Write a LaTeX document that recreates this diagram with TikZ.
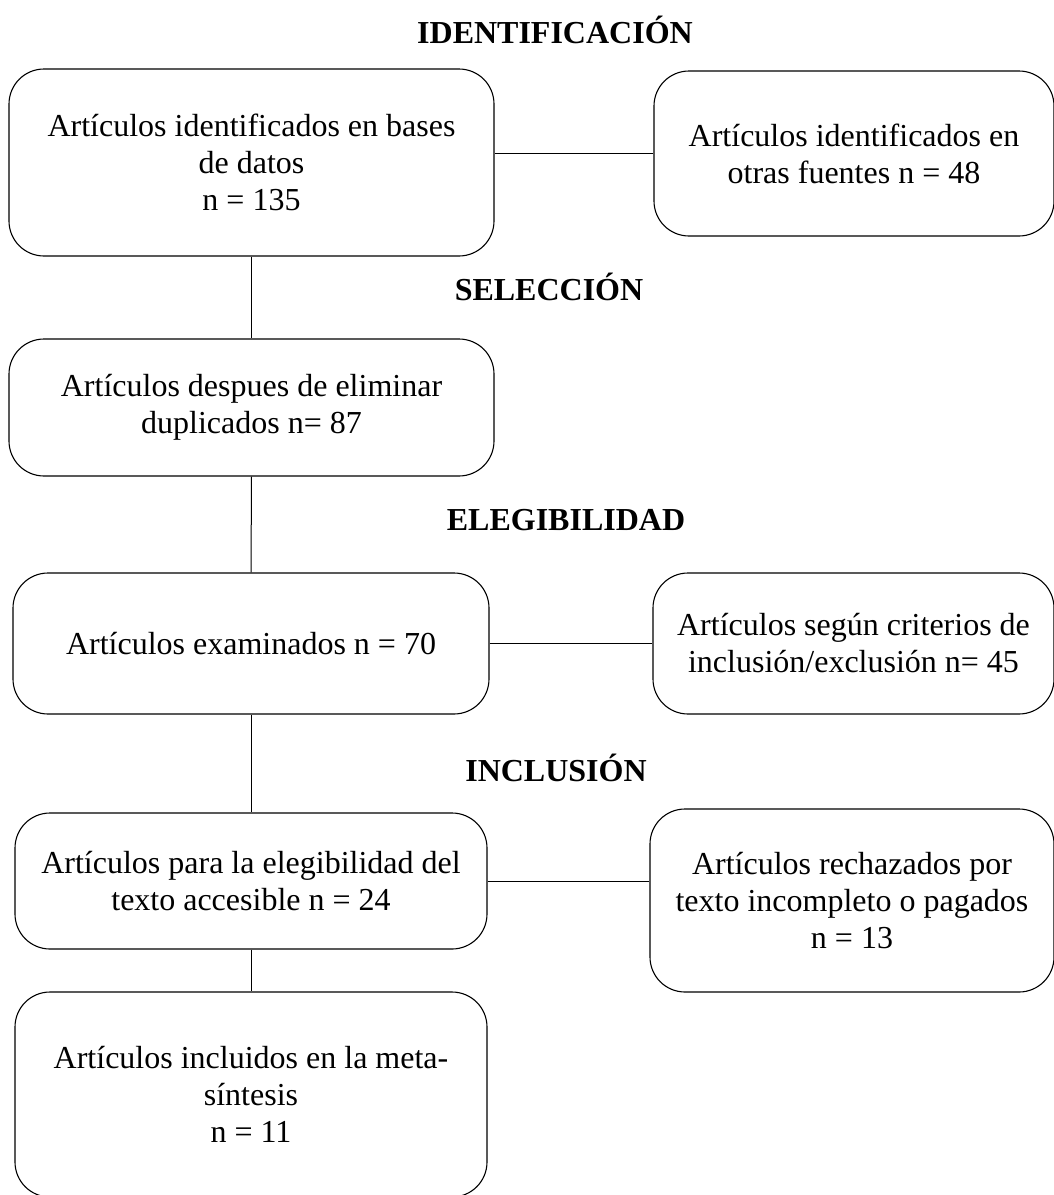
\documentclass[tikz,border=0pt]{standalone}
\usepackage{fontspec}
\setmainfont{Liberation Serif}
\usepackage{tikz}

\begin{document}
\begin{tikzpicture}[x=1pt,y=-1pt,
  caja/.style={draw,line width=1.1pt,rounded corners=35pt,align=center,
    font=\fontsize{32}{37}\selectfont},
  etapa/.style={font=\fontsize{32}{37}\selectfont\bfseries}]
\useasboundingbox (0,0) rectangle (1054,1195);
% etapas
\node[etapa] (tIdent) at (555,30) {IDENTIFICACIÓN};
\node[etapa] (tSelec) at (549,287) {SELECCIÓN};
\node[etapa] (tElegi) at (566,520) {ELEGIBILIDAD};
\node[etapa] (tInclu) at (556,768) {INCLUSIÓN};
% cajas
\node[caja,minimum width=485pt,minimum height=187pt] (bases) at (251.5,162.5)
  {Artículos identificados en bases\\de datos\\n = 135};
\node[caja,minimum width=400pt,minimum height=165pt] (otras) at (854,153.5)
  {Artículos identificados en\\otras fuentes n = 48};
\node[caja,minimum width=485pt,minimum height=137pt] (duplic) at (251.5,407.5)
  {Artículos despues de eliminar\\duplicados n= 87};
\node[caja,minimum width=476pt,minimum height=141pt] (examin) at (251,643.5)
  {Artículos examinados n = 70};
\node[caja,minimum width=401pt,minimum height=141pt] (criter) at (853.5,643.5)
  {Artículos según criterios de\\inclusión/exclusión n= 45};
\node[caja,minimum width=472pt,minimum height=136pt] (elegib) at (251,881)
  {Artículos para la elegibilidad del\\texto accesible n = 24};
\node[caja,minimum width=404pt,minimum height=183pt] (rechaz) at (852,900.5)
  {Artículos rechazados por\\texto incompleto o pagados\\n = 13};
\node[caja,minimum width=472pt,minimum height=205pt] (inclui) at (251,1094.5)
  {Artículos incluidos en la meta-\\síntesis\\n = 11};
% conectores
\draw[line width=1pt] (otras.west) -- (otras.west -| bases.east);
\draw[line width=1pt] (bases.south) -- (duplic.north);
\draw[line width=1pt] (duplic.south) -- (examin.north);
\draw[line width=1pt] (examin.east) -- (criter.west);
\draw[line width=1pt] (examin.south) -- (elegib.north);
\draw[line width=1pt] (elegib.east) -- (elegib.east -| rechaz.west);
\draw[line width=1pt] (elegib.south) -- (inclui.north);
\end{tikzpicture}
\end{document}
